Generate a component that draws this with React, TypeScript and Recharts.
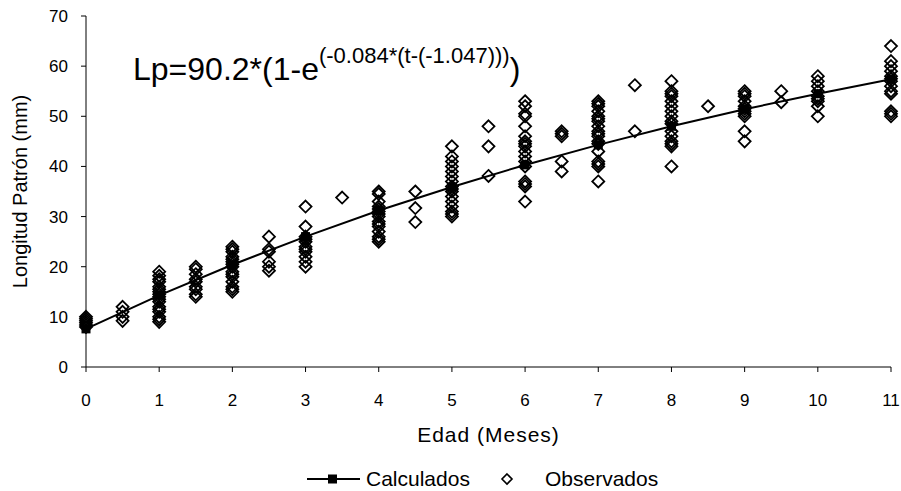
import React from 'react';
import { ScatterChart, Scatter, XAxis, YAxis, Legend, Customized } from 'recharts';

const FONT = '"Liberation Sans", Arial, sans-serif';

const ageTicks = [0, 1, 2, 3, 4, 5, 6, 7, 8, 9, 10, 11];
const lengthTicks = [0, 10, 20, 30, 40, 50, 60, 70];

// Calculados (values at each month)
const calcAges = [0, 1, 2, 3, 4, 5, 6, 7, 8, 9, 10, 11];
const calcLengths = [7.6, 14.3, 20.4, 26.0, 31.2, 35.9, 40.3, 44.3, 48.0, 51.4, 54.5, 57.4];

// Observados
const obsAges = [0, 0.5, 1, 1.5, 2, 2.5, 3, 3.5, 4, 4.5, 5, 5.5, 6, 6.5, 7, 7.5, 8, 8.5, 9, 9.5, 10, 11];
const obsLengths = [
  [10, 9.6, 9.2, 8.8, 8.4, 8.0],
  [12, 11, 10, 9.2],
  [19, 18.2, 17.5, 17, 16, 15.5, 15, 14.5, 14, 13.5, 13, 12, 11.5, 11, 10, 9.5, 9],
  [20, 19.5, 18.5, 17.5, 17, 16, 15.5, 14.5, 14],
  [24, 23.5, 23, 22, 21.5, 21, 20.5, 20, 19, 18.5, 18, 17, 16, 15.5, 15],
  [26, 23.5, 23, 21, 20, 19.2],
  [32, 28, 26, 25.5, 25, 24, 23.5, 23, 22, 21, 20],
  [33.8],
  [35, 34.5, 33, 32, 31.5, 31, 30.5, 30, 29, 28.5, 28, 27, 26, 25.5, 25],
  [35, 31.7, 28.9],
  [44, 42, 41, 40, 39, 38, 37, 36, 35.5, 35, 34, 33, 32, 31, 30.5, 30],
  [48, 44, 38.1],
  [53, 52, 50.5, 50, 48, 46, 45, 44.5, 44, 43, 42, 41, 40, 37, 36.5, 36, 33],
  [47, 46.5, 46, 41, 39],
  [53, 52.5, 52, 51, 50, 49.5, 49, 48, 47, 46.5, 46, 45, 44.5, 43, 41, 40.5, 40, 37],
  [56.2, 47],
  [57, 55, 54.5, 54, 53, 52, 51, 50, 49, 48.5, 47, 46, 45, 44.5, 44, 40],
  [52],
  [55, 54.5, 54, 53, 52, 51.5, 51, 50.5, 50, 47, 45],
  [55, 52.8],
  [58, 57, 56, 55, 54, 53.5, 53, 52, 50],
  [64, 61, 60, 59, 58, 57.5, 57, 56, 55, 54.5, 51, 50.5, 50],
];

const calcData = calcAges.map((x, i) => ({ x, y: calcLengths[i] }));
const obsData = obsAges.flatMap((x, i) => obsLengths[i].map((y) => ({ x, y })));

const Diamond = (props: any) => {
  const { cx, cy } = props;
  const r = 6;
  return (
    <path
      d={`M${cx},${cy - r}L${cx + r},${cy}L${cx},${cy + r}L${cx - r},${cy}Z`}
      fill="none"
      stroke="#000"
      strokeWidth={1.8}
    />
  );
};

const Square = (props: any) => {
  const { cx, cy } = props;
  const s = 9;
  return <rect x={cx - s / 2} y={cy - s / 2} width={s} height={s} fill="#000" />;
};

const renderLegend = () => (
  <div style={{ position: 'relative', width: 893, height: 32 }}>
    <svg width={893} height={32} style={{ position: 'absolute', left: 0, top: 0 }}>
      <line x1={299} x2={352} y1={20} y2={20} stroke="#000" strokeWidth={2} />
      <rect x={320} y={15.5} width={9} height={9} fill="#000" />
      <text x={358} y={27} fontSize={21} fontFamily={FONT} fill="#000">Calculados</text>
      <path d="M499,15L504,20L499,25L494,20Z" fill="none" stroke="#000" strokeWidth={1.6} />
      <text x={537} y={27} fontSize={21} fontFamily={FONT} fill="#000">Observados</text>
    </svg>
  </div>
);

const Equation = () => (
  <text x={125} y={72} fontFamily={FONT} fontSize={32} fill="#000">
    <tspan>Lp=90.2*(1-e</tspan>
    <tspan dy={-17} fontSize={22}>(-0.084*(t-(-1.047)))</tspan>
    <tspan dy={17} fontSize={32}>)</tspan>
  </text>
);

export default function App() {
  return (
    <div
      style={{
        width: 901,
        height: 491,
        boxSizing: 'border-box',
        paddingLeft: 8,
        paddingTop: 8,
        fontFamily: FONT,
        background: '#fff',
      }}
    >
      <style>{'html,body{margin:0;padding:0;overflow:hidden;}'}</style>
      <ScatterChart
        width={893}
        height={483}
        margin={{ top: 8, right: 10, left: 0, bottom: 0 }}
        style={{ fontFamily: FONT }}
      >
        <XAxis
          type="number"
          dataKey="x"
          domain={[0, 11]}
          ticks={ageTicks}
          interval={0}
          height={92}
          tickSize={5}
          tickMargin={22}
          stroke="#000"
          tick={{ fill: '#000', fontSize: 17 }}
          label={{ value: 'Edad (Meses)', position: 'insideBottom', offset: 17, fill: '#000', fontSize: 21, style: { letterSpacing: '1px' } }}
        />
        <YAxis
          type="number"
          dataKey="y"
          domain={[0, 70]}
          ticks={lengthTicks}
          interval={0}
          width={78}
          tickSize={5}
          tickMargin={13}
          stroke="#000"
          tick={{ fill: '#000', fontSize: 17 }}
          label={{
            value: 'Longitud Patrón (mm)',
            angle: -90,
            position: 'insideLeft',
            offset: 12,
            fill: '#000',
            fontSize: 20,
            style: { textAnchor: 'middle' },
          }}
        />
        <Legend verticalAlign="bottom" content={renderLegend} wrapperStyle={{ left: 0, width: 893 }} />
        <Scatter
          name="Observados"
          data={obsData}
          shape={Diamond}
          isAnimationActive={false}
          legendType="diamond"
        />
        <Scatter
          name="Calculados"
          data={calcData}
          shape={Square}
          line={{ stroke: '#000', strokeWidth: 2 }}
          lineType="joint"
          isAnimationActive={false}
          legendType="square"
        />
        <Customized component={Equation} />
      </ScatterChart>
    </div>
  );
}
